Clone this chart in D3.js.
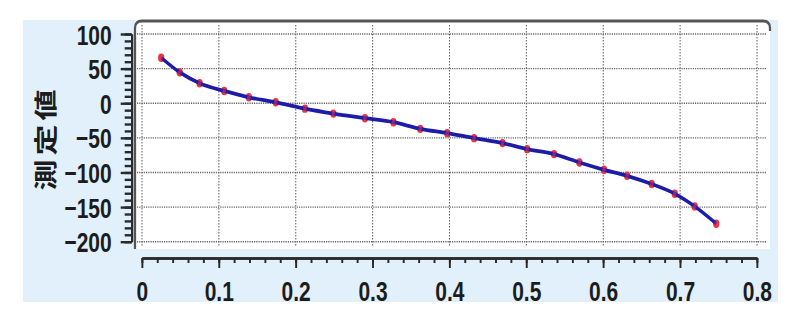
<!DOCTYPE html>
<html><head><meta charset="utf-8">
<script src="https://cdn.jsdelivr.net/npm/d3@7/dist/d3.min.js"></script>
<style>html,body{margin:0;padding:0;background:#fff;overflow:hidden}svg{display:block}</style>
</head><body>
<script>
// ---- data ----
const xValues = [0.025,0.049,0.075,0.107,0.139,0.174,0.212,0.249,0.290,0.327,0.362,0.397,0.432,0.469,0.501,0.536,0.569,0.601,0.631,0.663,0.693,0.719,0.747];
const yValues = [65.7,44.7,28.8,17.7,8.6,1.4,-7.8,-15.0,-21.6,-27.4,-37.0,-43.2,-50.4,-57.6,-66.3,-73.5,-85.6,-96.1,-104.8,-116.7,-130.7,-149.0,-174.0];
const yTickValues = [100,50,0,-50,-100,-150,-200];
const xTickValues = [0,0.1,0.2,0.3,0.4,0.5,0.6,0.7,0.8];
const xTickLabels = ["0","0.1","0.2","0.3","0.4","0.5","0.6","0.7","0.8"];
const yTitle = "測定値";

// horizontal squash factor (picture is horizontally compressed)
const K = 0.75;
const W = 800, H = 332;
const X = px => px / K;

const svg = d3.select("body").append("svg")
  .attr("width", W).attr("height", H)
  .attr("viewBox", `0 0 ${W / K} ${H}`)
  .attr("preserveAspectRatio", "none");

const x = d3.scaleLinear().domain([0, 0.8]).range([X(142), X(757)]);
const y = d3.scaleLinear().domain([-200, 100]).range([241.7, 34]);

// light blue panel
svg.append("rect").attr("x", X(23)).attr("y", 20).attr("width", X(778) - X(23)).attr("height", 282)
  .attr("fill", "#e1f0fa");

// white plot area
const pl = X(135), pr = X(770), pt = 21, pb = 249;
svg.append("rect").attr("x", pl).attr("y", pt).attr("width", pr - pl).attr("height", pb - pt)
  .attr("fill", "#ffffff");

// grid
const gridG = svg.append("g").attr("stroke", "#666").attr("stroke-width", 1.4).attr("stroke-dasharray", "1.6,1.4");
gridG.selectAll("line.h").data(yTickValues).join("line")
  .attr("x1", X(137)).attr("x2", X(766))
  .attr("y1", d => y(d)).attr("y2", d => y(d));
gridG.selectAll("line.v").data(xTickValues).join("line")
  .attr("x1", d => x(d)).attr("x2", d => x(d))
  .attr("y1", 25).attr("y2", 247);

// frame (left & top, rounded)
const r = 7;
svg.append("path")
  .attr("d", `M${pl},${pb} L${pl},${pt + r} Q${pl},${pt} ${pl + X(r)},${pt} L${pr - X(r)},${pt} Q${pr},${pt} ${pr},${pt + r} L${pr},${pt + 10}`)
  .attr("fill", "none").attr("stroke", "#555").attr("stroke-width", 3);

// y axis
const yAxisX = X(131.7);
const yMinor = d3.range(-200, 101, 10);
const yMinorG = svg.append("g").attr("transform", `translate(${yAxisX},0)`)
  .call(d3.axisLeft(y).tickValues(yMinor).tickSize(X(7)).tickSizeOuter(0).tickFormat(""));
const yG = svg.append("g").attr("transform", `translate(${yAxisX},0)`)
  .call(d3.axisLeft(y).tickValues(yTickValues).tickSize(X(11)).tickSizeOuter(0).tickPadding(X(9)).tickFormat(d3.format("d")));
[yMinorG, yG].forEach(g => {
  g.selectAll("line").attr("stroke", "#2a2a2a").attr("stroke-width", 2.4);
  g.select(".domain").attr("stroke", "#2a2a2a").attr("stroke-width", 2.8);
});
yG.selectAll("text").attr("font-family", "'Liberation Sans', Arial, sans-serif").attr("font-weight", "bold")
  .attr("font-size", 28).attr("fill", "#1c1c1c").attr("dy", "0.36em");

// x axis
const xAxisY = 258;
const xMinor = d3.range(0, 0.8001, 0.02);
const xMinorG = svg.append("g").attr("transform", `translate(0,${xAxisY})`)
  .call(d3.axisBottom(x).tickValues(xMinor).tickSize(5).tickSizeOuter(0).tickFormat(""));
const xG = svg.append("g").attr("transform", `translate(0,${xAxisY})`)
  .call(d3.axisBottom(x).tickValues(xTickValues).tickSize(10).tickSizeOuter(0).tickPadding(13)
    .tickFormat((d, i) => xTickLabels[i]));
[xMinorG, xG].forEach(g => {
  g.selectAll("line").attr("stroke", "#2a2a2a").attr("stroke-width", 2.6);
  g.select(".domain").attr("stroke", "#2a2a2a").attr("stroke-width", 2.6);
});
xG.selectAll("text").attr("font-family", "'Liberation Sans', Arial, sans-serif").attr("font-weight", "bold")
  .attr("font-size", 28).attr("fill", "#1c1c1c");

// y title
svg.append("text")
  .attr("transform", `translate(${X(46)},138) rotate(-90)`)
  .attr("text-anchor", "middle").attr("dy", "0.35em")
  .attr("font-family", "'Noto Sans CJK JP', 'Noto Sans CJK SC', sans-serif")
  .attr("font-weight", "bold").attr("font-size", 31).attr("letter-spacing", 4)
  .attr("fill", "#1c1c1c").text(yTitle);

// data
const pts = xValues.map((v, i) => [v, yValues[i]]);
svg.append("g").selectAll("circle").data(pts).join("circle")
  .attr("cx", d => x(d[0])).attr("cy", d => y(d[1])).attr("r", 4.2)
  .attr("fill", "#ee3344");
svg.append("path").datum(pts)
  .attr("d", d3.line().x(d => x(d[0])).y(d => y(d[1])).curve(d3.curveMonotoneX))
  .attr("fill", "none").attr("stroke", "#1c1ca8").attr("stroke-width", 3.8)
  .attr("stroke-linejoin", "round");
svg.append("g").selectAll("circle").data(pts).join("circle")
  .attr("cx", d => x(d[0])).attr("cy", d => y(d[1])).attr("r", 2.4)
  .attr("fill", "#ee3344").attr("opacity", 0.5);
</script>
</body></html>
